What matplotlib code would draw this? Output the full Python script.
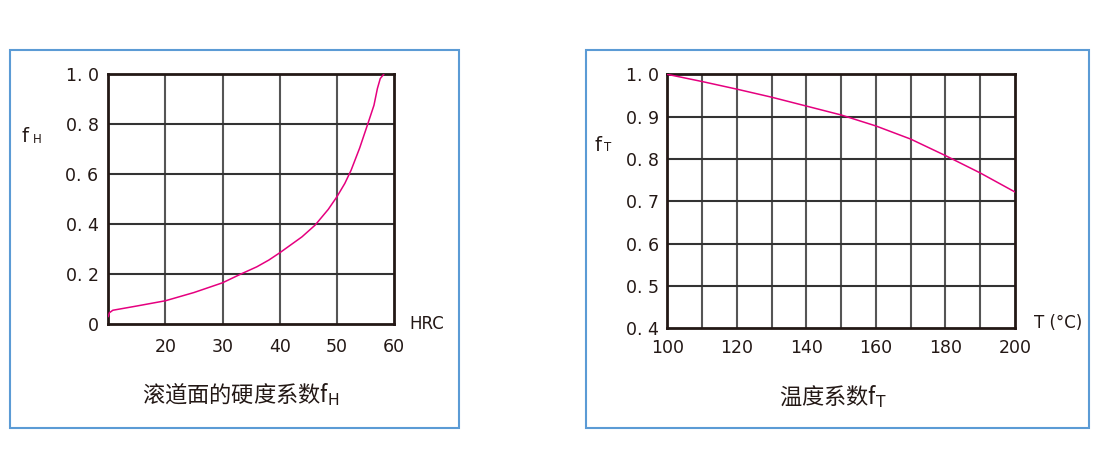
import matplotlib.pyplot as plt
from matplotlib.patches import Rectangle

# 左图：滚道面的硬度系数 fH
hrc = [10.0, 10.2, 10.8, 15, 20, 25, 30, 33.2, 36, 38.1, 40, 43.9, 46.2,
       48.5, 50, 51.4, 52.5, 54, 55.4, 56.5, 57.1, 57.6, 58.2]
f_h = [0.03, 0.045, 0.055, 0.072, 0.093, 0.126, 0.165, 0.2, 0.229, 0.256,
       0.285, 0.349, 0.396, 0.459, 0.509, 0.563, 0.616, 0.705, 0.8, 0.876,
       0.943, 0.983, 1.0]
hrc_ticks = [20, 30, 40, 50, 60]
fh_ticks = [0, 0.2, 0.4, 0.6, 0.8, 1.0]
fh_labels = ["0", "0. 2", "0. 4", "0. 6", "0. 8", "1. 0"]

# 右图：温度系数 fT
temp = [100, 110, 120, 130, 140, 150, 160, 170, 180, 190, 200]
f_t = [1.0, 0.983, 0.965, 0.946, 0.925, 0.904, 0.878, 0.847, 0.808, 0.767, 0.722]
temp_ticks = [100, 120, 140, 160, 180, 200]
ft_ticks = [0.4, 0.5, 0.6, 0.7, 0.8, 0.9, 1.0]
ft_labels = ["0. 4", "0. 5", "0. 6", "0. 7", "0. 8", "0. 9", "1. 0"]

plt.rcParams['font.family'] = ['Noto Sans CJK SC', 'DejaVu Sans']
num_font = ['DejaVu Sans']
ink = '#231815'
curve_color = '#e5007f'
box_color = '#5b9bd5'

fig = plt.figure(figsize=(10.98, 4.74), dpi=100)

# 蓝色外框
for x0, w in [(0.0094, 0.4084), (0.5334, 0.4584)]:
    fig.patches.append(Rectangle((x0, 0.097), w, 0.7975, transform=fig.transFigure,
                                 fill=False, edgecolor=box_color, linewidth=1.5))


def style_axes(ax):
    for s in ax.spines.values():
        s.set_linewidth(2)
        s.set_color(ink)
    ax.tick_params(length=0, labelsize=12.5, colors=ink)
    for lab in ax.get_xticklabels() + ax.get_yticklabels():
        lab.set_family(num_font)


# 左图
ax1 = fig.add_axes([0.0986, 0.3165, 0.2602, 0.5267])
ax1.set_xlim(10, 60)
ax1.set_ylim(0, 1.0)
for v in [20, 30, 40, 50]:
    ax1.axvline(v, color='#555555', lw=1.5, zorder=1)
for v in [0.2, 0.4, 0.6, 0.8]:
    ax1.axhline(v, color='#333333', lw=1.5, zorder=1)
ax1.plot(hrc, f_h, color=curve_color, lw=1.1, zorder=3)
ax1.set_xticks(hrc_ticks)
ax1.set_xticklabels([str(t) for t in hrc_ticks])
ax1.set_yticks(fh_ticks)
ax1.set_yticklabels(fh_labels)
ax1.tick_params(axis='x', pad=10)
ax1.tick_params(axis='y', pad=7)
style_axes(ax1)
ax1.text(1.055, 0.0, "HRC", transform=ax1.transAxes, fontsize=12, family=num_font,
         va='center', ha='left', color=ink)
ax1.text(-0.305, 0.75, "f", transform=ax1.transAxes, fontsize=14, family=num_font,
         va='center', ha='left', color=ink)
ax1.text(-0.265, 0.74, "H", transform=ax1.transAxes, fontsize=8.5, family=num_font,
         va='center', ha='left', color=ink)
fig.text(0.219, 0.168, r"滚道面的硬度系数f$_{\mathrm{H}}$", fontsize=16,
         ha='center', va='center', color=ink)

# 右图
ax2 = fig.add_axes([0.6077, 0.3074, 0.3167, 0.5358])
ax2.set_xlim(100, 200)
ax2.set_ylim(0.4, 1.0)
for v in range(110, 200, 10):
    ax2.axvline(v, color='#555555', lw=1.5, zorder=1)
for v in [0.5, 0.6, 0.7, 0.8, 0.9]:
    ax2.axhline(v, color='#333333', lw=1.5, zorder=1)
ax2.plot(temp, f_t, color=curve_color, lw=1.1, zorder=3)
ax2.set_xticks(temp_ticks)
ax2.set_xticklabels([str(t) for t in temp_ticks])
ax2.set_yticks(ft_ticks)
ax2.set_yticklabels(ft_labels)
ax2.tick_params(axis='x', pad=8)
ax2.tick_params(axis='y', pad=6)
style_axes(ax2)
ax2.text(1.055, 0.02, "T (°C)", transform=ax2.transAxes, fontsize=12, family=num_font,
         va='center', ha='left', color=ink)
ax2.text(-0.21, 0.72, "f", transform=ax2.transAxes, fontsize=14, family=num_font,
         va='center', ha='left', color=ink)
ax2.text(-0.182, 0.71, "T", transform=ax2.transAxes, fontsize=8.5, family=num_font,
         va='center', ha='left', color=ink)
fig.text(0.759, 0.164, r"温度系数f$_{\mathrm{T}}$", fontsize=16,
         ha='center', va='center', color=ink)

fig.savefig("out.png", dpi=100)
